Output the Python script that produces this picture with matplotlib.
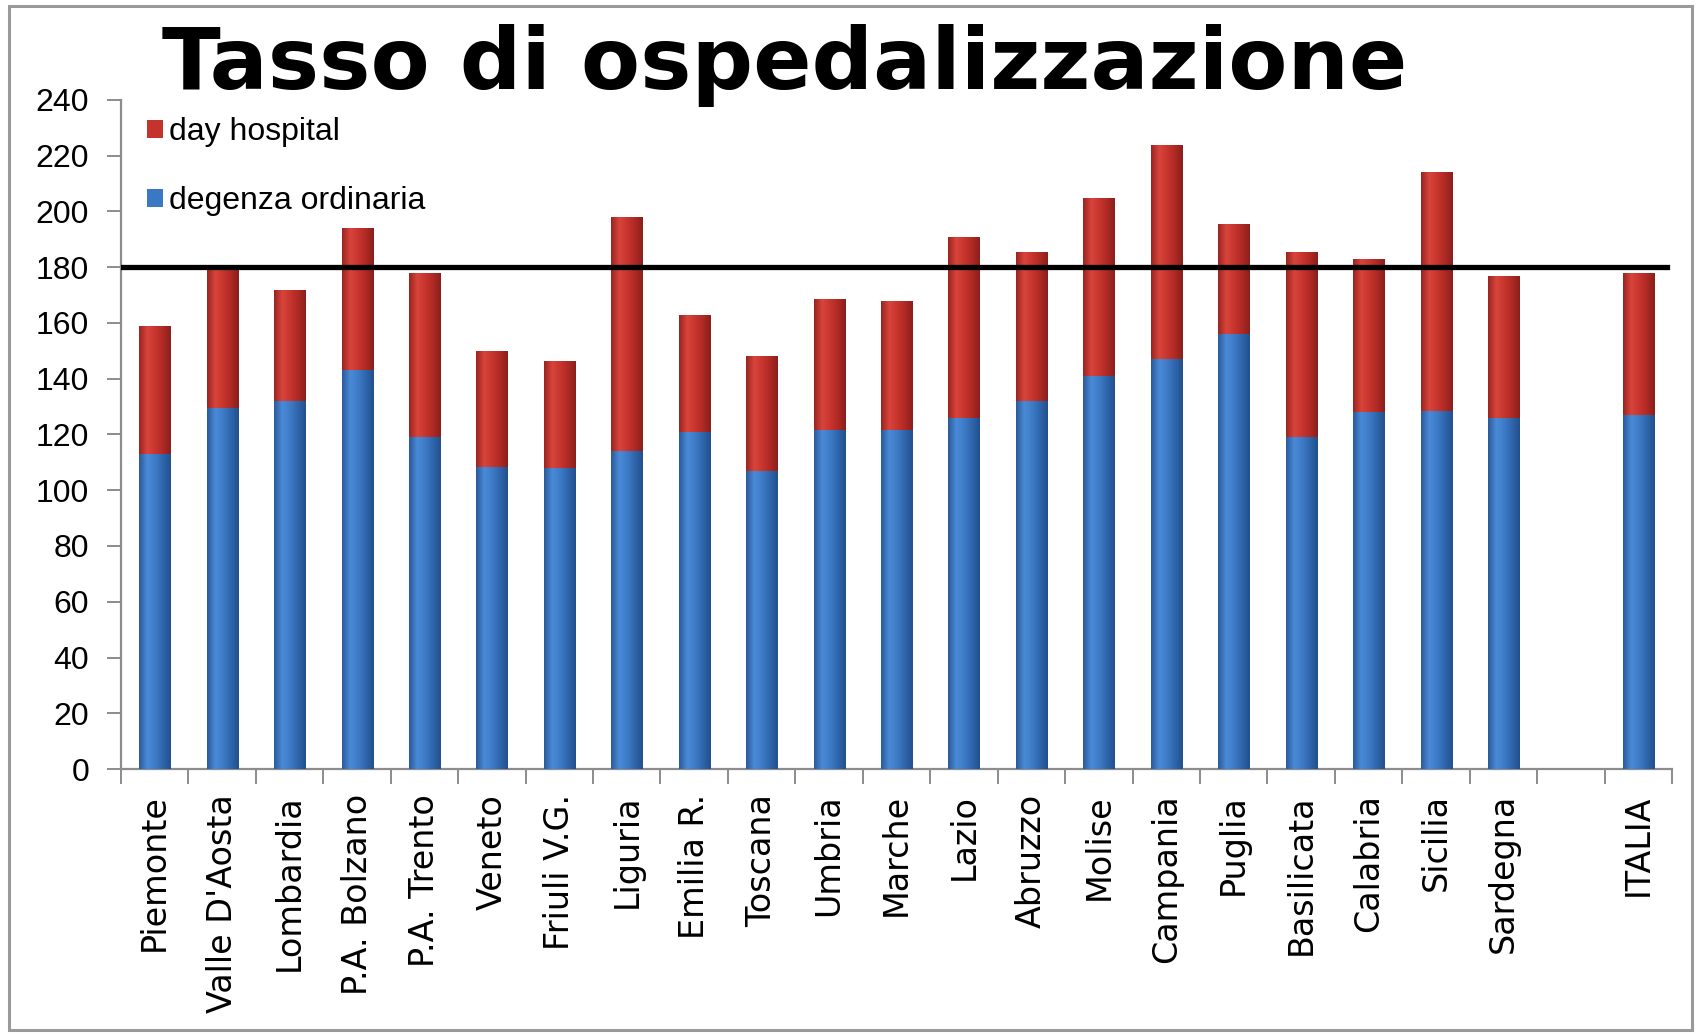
"""Stacked hospitalisation-rate bars by region (ordinary stay + day hospital)."""

import matplotlib

matplotlib.use("Agg")

import matplotlib.pyplot as plt
import numpy as np
from matplotlib.colors import LinearSegmentedColormap
from matplotlib.patches import Rectangle

REGIONS = [
    "Piemonte", "Valle D'Aosta", "Lombardia", "P.A. Bolzano", "P.A. Trento",
    "Veneto", "Friuli V.G.", "Liguria", "Emilia R.", "Toscana", "Umbria",
    "Marche", "Lazio", "Abruzzo", "Molise", "Campania", "Puglia",
    "Basilicata", "Calabria", "Sicilia", "Sardegna", "", "ITALIA",
]
DEGENZA_ORDINARIA = [
    113, 129.5, 132, 143, 119, 108.5, 108, 114, 121, 107, 121.5,
    121.5, 126, 132, 141, 147, 156, 119, 128, 128.5, 126, np.nan, 127,
]
DAY_HOSPITAL = [
    46, 49.5, 40, 51, 59, 41.5, 38.5, 84, 42, 41, 47,
    46.5, 65, 53.5, 64, 77, 39.5, 66.5, 55, 85.5, 51, np.nan, 51,
]
SOGLIA = 180
Y_TICKS = list(range(0, 241, 20))

SANS = ["Liberation Sans", "DejaVu Sans"]

BLUE = LinearSegmentedColormap.from_list(
    "blue_bar", ["#2a5a9a", "#4a8ad6", "#3f7cc8", "#2f66ad", "#23508c"]
)
RED = LinearSegmentedColormap.from_list(
    "red_bar", ["#9a2420", "#d8453c", "#c8352e", "#b02a25", "#8a1f1c"]
)


def shade_bars(ax, bars, cmap):
    # horizontal gradient clipped to each bar for the cylinder look
    grad = np.linspace(0, 1, 64).reshape(1, -1)
    for patch in bars.patches:
        h = patch.get_height()
        if not np.isfinite(h) or h == 0:
            continue
        x0, y0 = patch.get_x(), patch.get_y()
        w = patch.get_width()
        img = ax.imshow(
            grad, cmap=cmap, aspect="auto", interpolation="bicubic",
            extent=(x0, x0 + w, y0, y0 + h), zorder=3,
        )
        img.set_clip_path(patch)


fig = plt.figure(figsize=(16.97, 10.35), dpi=100)
ax = fig.add_axes([0.0713, 0.257, 0.914, 0.6464])

x = np.arange(len(REGIONS))
blue_bars = ax.bar(x, DEGENZA_ORDINARIA, width=0.46, color="#3a78c4",
                   zorder=2, label="degenza ordinaria")
red_bars = ax.bar(x, DAY_HOSPITAL, width=0.46, bottom=DEGENZA_ORDINARIA,
                  color="#c4332c", zorder=2, label="day hospital")
shade_bars(ax, blue_bars, BLUE)
shade_bars(ax, red_bars, RED)

ax.axhline(SOGLIA, xmin=0.0, xmax=0.997, color="black", linewidth=3.8, zorder=4)

ax.set_xlim(-0.5, len(REGIONS) - 0.5)
ax.set_ylim(0, 240)

for side in ("top", "right"):
    ax.spines[side].set_visible(False)
for side in ("left", "bottom"):
    ax.spines[side].set_color("#8c8c8c")
    ax.spines[side].set_linewidth(1.6)

ax.set_yticks(Y_TICKS)
ax.set_yticklabels([str(v) for v in Y_TICKS], family=SANS, fontsize=23)
ax.tick_params(axis="y", length=10, width=1.4, color="#8c8c8c", pad=13)

# category labels centred on the bars, tick marks between categories
ax.set_xticks(x)
ax.set_xticklabels(REGIONS, rotation=90, fontsize=24, family="DejaVu Sans",
                   va="top", ha="center")
ax.tick_params(axis="x", which="major", length=0, pad=18)
ax.set_xticks(np.arange(-0.5, len(REGIONS), 1.0), minor=True)
ax.tick_params(axis="x", which="minor", length=11, width=1.4,
               color="#8c8c8c", direction="out")

handles, labels = ax.get_legend_handles_labels()
ax.legend(
    handles[::-1], labels[::-1],
    loc="center left", bbox_to_anchor=(0.0866, 0.839),
    bbox_transform=fig.transFigure,
    frameon=False, borderpad=0, borderaxespad=0,
    handlelength=0.5, handleheight=0.5, handletextpad=0.2,
    labelspacing=1.22, prop={"family": SANS, "size": 23},
)

fig.text(0.4626, 0.914, "Tasso di ospedalizzazione", fontsize=62,
         fontweight="bold", family="DejaVu Sans", ha="center", va="baseline")

fig.patches.append(Rectangle(
    (8.5 / 1697, 5 / 1035), 1683 / 1697, 1024 / 1035,
    transform=fig.transFigure, fill=False, edgecolor="#9a9a9a",
    linewidth=2.2,
))

fig.savefig("out.png", dpi=100, facecolor="white")
